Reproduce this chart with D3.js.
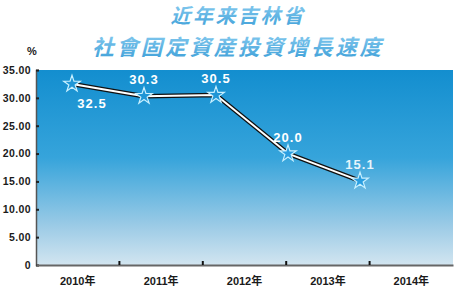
<!DOCTYPE html>
<html><head><meta charset="utf-8">
<script src="https://cdn.jsdelivr.net/npm/d3@7"></script>
<style>body{margin:0;background:#fff}svg{display:block}</style>
</head><body>
<script>
const years = ["2010年","2011年","2012年","2013年","2014年"];
const values = [32.5, 30.3, 30.5, 20.0, 15.1];
const yTicks = [0, 5, 10, 15, 20, 25, 30, 35];
const titleLines = ["近年来吉林省", "社會固定資産投資增長速度"];
const unit = "%";

const W = 463, H = 298;
const svg = d3.select("body").append("svg").attr("width", W).attr("height", H);
const L = 36, R = 453, T = 70, B = 265;

const defs = svg.append("defs");
const g = defs.append("linearGradient").attr("id","bg").attr("x1",0).attr("y1",0).attr("x2",0).attr("y2",1);
g.append("stop").attr("offset","0%").attr("stop-color","#138ecf");
g.append("stop").attr("offset","45%").attr("stop-color","#36a4db");
g.append("stop").attr("offset","80%").attr("stop-color","#9ccbe6");
g.append("stop").attr("offset","100%").attr("stop-color","#d2e5f0");
const tg = defs.append("linearGradient").attr("id","tg").attr("x1",0).attr("y1",0).attr("x2",0).attr("y2",1);
tg.append("stop").attr("offset","0%").attr("stop-color","#8fd0f2");
tg.append("stop").attr("offset","100%").attr("stop-color","#3d9fd8");

svg.append("rect").attr("x",L).attr("y",T).attr("width",R-L).attr("height",B-T).attr("fill","url(#bg)");

const y = d3.scaleLinear().domain([0,35]).range([B,T]);
const xb = d3.scaleBand().domain(years).range([L,R]);
const xp = d3.scalePoint().domain(years).range([72,360]);

// Y axis
const ya = svg.append("g").attr("transform",`translate(${L},0)`)
  .call(d3.axisLeft(y).tickValues(yTicks).tickSize(-3).tickPadding(5)
    .tickFormat(d => d === 0 ? "0" : d3.format(".2f")(d)));
ya.select(".domain").attr("stroke","#555").attr("stroke-width",1.5);
ya.selectAll(".tick line").attr("stroke","#222").attr("stroke-width",2);
ya.selectAll(".tick text").attr("font-family","Liberation Sans, Arial, sans-serif")
  .attr("font-weight","bold").attr("font-size",10.5).attr("fill","#1a1a1a").attr("letter-spacing","0.4px");

// X axis
const xa = svg.append("g").attr("transform",`translate(0,${B})`)
  .call(d3.axisBottom(xb).tickSize(0).tickPadding(12));
xa.select(".domain").attr("stroke","#666").attr("stroke-width",2);
xa.selectAll(".tick text").attr("font-family","Liberation Sans, 'Noto Sans CJK SC', sans-serif")
  .attr("font-weight","bold").attr("font-size",11).attr("fill","#1a1a1a");
// separator ticks between bands
svg.append("g").selectAll("line").data(years.slice(1)).join("line")
  .attr("x1", d => xb(d)).attr("x2", d => xb(d))
  .attr("y1", B-4).attr("y2", B).attr("stroke","#111").attr("stroke-width",2);

svg.append("text").attr("x",32).attr("y",55).attr("text-anchor","middle")
  .attr("font-family","Liberation Sans, Arial, sans-serif").attr("font-weight","bold")
  .attr("font-size",11).attr("fill","#222").text(unit);

// Line
const line = d3.line().x((d,i)=>xp(years[i])).y(d=>y(d));
svg.append("path").datum(values).attr("d",line).attr("fill","none")
  .attr("stroke","#111").attr("stroke-width",4.5).attr("stroke-linejoin","round");
svg.append("path").datum(values).attr("d",line).attr("fill","none")
  .attr("stroke","#fff").attr("stroke-width",2).attr("stroke-linejoin","round");

// stars
const star = d3.symbol().type(d3.symbolStar).size(85);
svg.append("g").selectAll("path").data(values).join("path")
  .attr("d", star)
  .attr("transform",(d,i)=>`translate(${xp(years[i])},${y(d)})`)
  .attr("fill",(d,i)=> i>=3 ? "#2b9ee0" : "#1f96d6").attr("stroke","#c8f0ff").attr("stroke-width",1.2);

// labels
const labelOffsets = [20, -12, -12, -12, -12];
const labelDx = [20, 0, 0, 0, 0];
svg.append("g").selectAll("text").data(values).join("text")
  .attr("x",(d,i)=>xp(years[i]) + labelDx[i])
  .attr("y",(d,i)=>y(d) + labelOffsets[i] + (labelOffsets[i]>0 ? 4 : 0))
  .attr("text-anchor","middle")
  .attr("font-family","Liberation Sans, Arial, sans-serif").attr("font-weight","bold")
  .attr("font-size",13).attr("letter-spacing","1px")
  .attr("fill",(d,i)=> i===4 ? "#e6f4fb" : "#fff")
  .text(d => d3.format(".1f")(d));

// title
const tsizes = [20, 21.5];
const ty = [23, 54.5];
const tls = ["2.5px", "2.8px"];
titleLines.forEach((t,i)=>{
  svg.append("text").attr("x",238).attr("y",ty[i]).attr("text-anchor","middle")
    .attr("font-family","'Noto Sans CJK SC', 'Noto Sans CJK TC', sans-serif")
    .attr("font-weight","bold").attr("font-style","italic").attr("font-size",tsizes[i])
    .attr("letter-spacing", tls[i])
    .attr("fill","url(#tg)").attr("stroke","#ffffff").attr("stroke-width",1.2)
    .attr("paint-order","stroke")
    .text(t);
});
</script>
</body></html>
